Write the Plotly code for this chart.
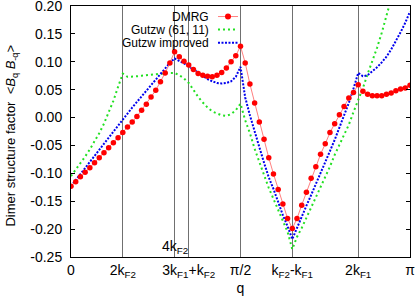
import math
import plotly.graph_objects as go

# q grid index: q = n * pi / 72
n_idx = list(range(73))

dmrg = [-0.123, -0.115, -0.106, -0.098, -0.090, -0.081, -0.072, -0.063, -0.054, -0.045,
        -0.036, -0.027, -0.017, -0.008, 0.002, 0.013, 0.024, 0.037, 0.049, 0.064,
        0.080, 0.098, 0.118,
        0.109, 0.101, 0.094, 0.086, 0.079, 0.076, 0.074, 0.073, 0.076, 0.081,
        0.089, 0.100, 0.111, 0.128,
        0.098, 0.060, 0.026, -0.008, -0.039, -0.072, -0.101, -0.129, -0.155, -0.181,
        -0.199, -0.181,
        -0.157, -0.134, -0.109, -0.088, -0.066, -0.047, -0.027, -0.011, 0.005, 0.020,
        0.035, 0.045, 0.059, 0.047, 0.042, 0.039, 0.039, 0.039, 0.042, 0.044,
        0.048, 0.051, 0.053, 0.058]

gutzw = [-0.105, -0.094, -0.082, -0.070, -0.057, -0.043, -0.028, -0.011, 0.008, 0.030,
         0.055, 0.079,
         0.073, 0.073, 0.074, 0.075, 0.076, 0.077, 0.078, 0.079, 0.080, 0.080, 0.080, 0.076,
         0.070, 0.062, 0.050, 0.037, 0.027, 0.018, 0.011, 0.007, 0.004, 0.003, 0.006,
         0.013, 0.025,
         -0.005, -0.028, -0.056, -0.078, -0.103, -0.126, -0.145, -0.166, -0.186, -0.205,
         -0.236,
         -0.214, -0.198, -0.180, -0.161, -0.142, -0.123, -0.105, -0.088, -0.067, -0.050,
         -0.033, -0.013, 0.010, 0.030, 0.053, 0.078, 0.101, 0.125, 0.152, 0.183,
         0.215, 0.245, 0.275, 0.305, 0.335]

gutzw_imp = [-0.123, -0.112, -0.101, -0.090, -0.079, -0.068, -0.057, -0.046, -0.035, -0.024,
             -0.013, -0.002, 0.008, 0.018, 0.028, 0.038, 0.049, 0.059, 0.069, 0.079,
             0.089, 0.098, 0.106,
             0.102, 0.097, 0.092, 0.086, 0.080, 0.074, 0.069, 0.065, 0.062, 0.061,
             0.062, 0.065, 0.073, 0.091,
             0.036, 0.004, -0.027, -0.053, -0.081, -0.107, -0.128, -0.152, -0.175, -0.195,
             -0.218,
             -0.198, -0.177, -0.158, -0.139, -0.120, -0.100, -0.080, -0.060, -0.040, -0.019,
             0.003, 0.026, 0.052, 0.080, 0.074, 0.076, 0.083, 0.090, 0.099, 0.109,
             0.122, 0.137, 0.153, 0.170, 0.190]

x_tick_n = [0, 11, 22, 25, 36, 47, 61, 72]
x_tick_labels = ["0", "2k<sub>F2</sub>", "", "3k<sub>F1</sub>+k<sub>F2</sub>", "π/2",
                 "k<sub>F2</sub>-k<sub>F1</sub>", "2k<sub>F1</sub>", "π"]
label_4kf2_n = 22
label_4kf2 = "4k<sub>F2</sub>"

y_tick_vals = [0.20, 0.15, 0.10, 0.05, 0.00, -0.05, -0.10, -0.15, -0.20, -0.25]
y_tick_labels = ["0.20", "0.15", "0.10", "0.05", "0.00", "-0.05", "-0.10", "-0.15", "-0.20", "-0.25"]

series_names = ["DMRG", "Gutzw (61, 11)", "Gutzw improved"]

q = [k * math.pi / 72 for k in n_idx]
FONT = "Liberation Sans"

fig = go.Figure()
fig.add_trace(go.Scatter(x=q, y=gutzw, mode="lines", name=series_names[1],
                         line=dict(color="#22e022", width=2, dash="2px,3px"), showlegend=False))
fig.add_trace(go.Scatter(x=q, y=gutzw_imp, mode="lines", name=series_names[2],
                         line=dict(color="#0000ee", width=2, dash="2px,1.5px"), showlegend=False))
fig.add_trace(go.Scatter(x=q, y=dmrg, mode="lines+markers", name=series_names[0],
                         line=dict(color="#ff8080", width=1),
                         marker=dict(color="#ff0000", size=5.5), showlegend=False))

fig.update_layout(
    width=415, height=297,
    margin=dict(l=71, r=5, t=6, b=40, autoexpand=False),
    paper_bgcolor="white", plot_bgcolor="white",
    font=dict(family=FONT, size=14, color="black"),
    showlegend=False,
)
fig.update_xaxes(
    range=[0, math.pi], tickvals=[k * math.pi / 72 for k in x_tick_n], ticktext=x_tick_labels,
    showgrid=True, gridcolor="#707070", gridwidth=1, zeroline=False,
    showline=True, linecolor="black", linewidth=1, mirror=True, ticks="",
    tickfont=dict(size=14), automargin=False, ticklabeloverflow="allow",
    title=dict(text="q", standoff=4, font=dict(size=14)),
)
fig.update_yaxes(
    range=[-0.25, 0.20], tickvals=y_tick_vals, ticktext=y_tick_labels,
    showgrid=False, zeroline=False, showline=True, linecolor="black", linewidth=1,
    mirror="allticks", ticks="inside", ticklen=4, tickcolor="black",
    tickfont=dict(size=14), automargin=False, ticklabelstandoff=5, ticklabeloverflow="allow",
)

annotations = [
    dict(x=label_4kf2_n * math.pi / 72, y=0, xref="x", yref="paper", text=label_4kf2,
         showarrow=False, xanchor="center", yanchor="bottom", yshift=-1, font=dict(size=14)),
    dict(x=-0.174, y=0.484, xref="paper", yref="paper", textangle=-90,
         text="Dimer structure factor  &lt;<i>B</i><sub>q</sub> <i>B</i><sub>-q</sub>&gt;",
         showarrow=False, xanchor="center", yanchor="middle", font=dict(size=13)),
]
legend_rows = [0.958, 0.906, 0.854]
for name, yr in zip(series_names, legend_rows):
    annotations.append(dict(x=0.413, y=yr, xref="paper", yref="paper", text=name,
                            showarrow=False, xanchor="right", yanchor="middle",
                            font=dict(size=12)))
fig.update_layout(annotations=annotations)

lx0, lx1 = 0.4336, 0.4926
shapes = [
    dict(type="line", xref="paper", yref="paper", x0=lx0, x1=lx1, y0=legend_rows[0], y1=legend_rows[0],
         line=dict(color="#ff8080", width=1)),
    dict(type="circle", xref="paper", yref="paper", xsizemode="pixel", ysizemode="pixel",
         xanchor=(lx0 + lx1) / 2, yanchor=legend_rows[0], x0=-3, x1=3, y0=-3, y1=3,
         fillcolor="#ff0000", line=dict(width=0)),
    dict(type="line", xref="paper", yref="paper", x0=lx0, x1=lx1, y0=legend_rows[1], y1=legend_rows[1],
         line=dict(color="#22e022", width=2, dash="2px,3px")),
    dict(type="line", xref="paper", yref="paper", x0=lx0, x1=lx1, y0=legend_rows[2], y1=legend_rows[2],
         line=dict(color="#0000ee", width=2, dash="2px,1.5px")),
]
fig.update_layout(shapes=shapes)

fig.write_html("out.html", config={"displayModeBar": False},
               post_script="document.body.style.margin='0';document.body.style.overflow='hidden';")
